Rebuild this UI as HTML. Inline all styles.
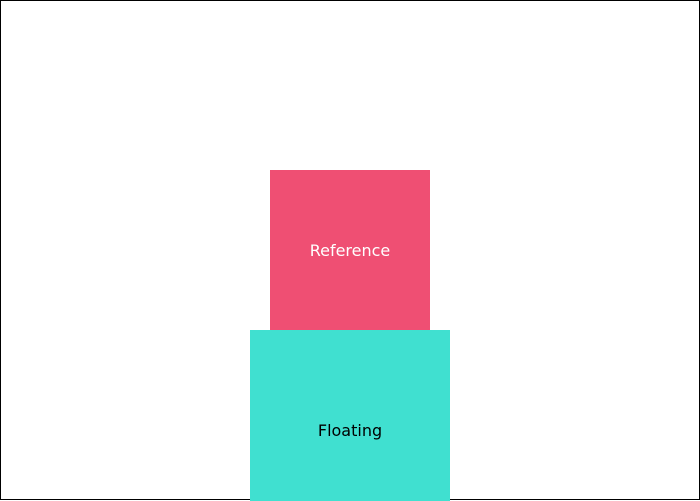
<!DOCTYPE html>
<html><head><style>
html,body{margin:0;padding:0;width:700px;height:501px;overflow:hidden;background:#fff;font-family:"DejaVu Sans",sans-serif;}
.frame{position:absolute;left:0;top:0;width:698px;height:498px;border:1px solid #000;}
.ref{position:absolute;left:270px;top:170px;width:160px;height:160px;background:#ef4f73;color:#fff;font-size:16px;display:flex;align-items:center;justify-content:center;}
.flo{position:absolute;left:250px;top:330px;width:200px;height:171px;background:#40e0d0;color:#000;font-size:16px;display:flex;align-items:center;justify-content:center;}
.flo span{position:relative;top:15px;}
</style></head><body>
<div class="frame"></div>
<div class="ref">Reference</div>
<div class="flo"><span>Floating</span></div>
</body></html>
